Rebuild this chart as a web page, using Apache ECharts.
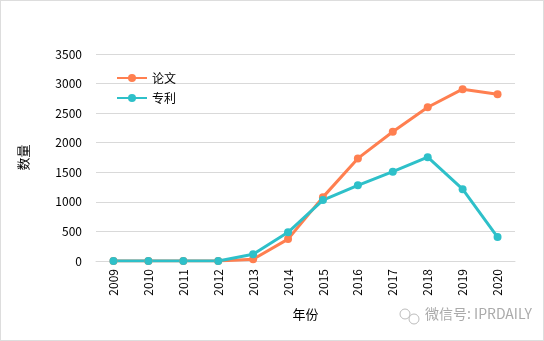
<!DOCTYPE html>
<html><head><meta charset="utf-8">
<script src="https://cdn.jsdelivr.net/npm/echarts@6/dist/echarts.min.js"></script>
<style>html,body{margin:0;padding:0;background:#fff}#c{width:542px;height:339px;border:1px solid #ddd}</style>
</head><body><div id="c"></div>
<script>
const years = ['2009','2010','2011','2012','2013','2014','2015','2016','2017','2018','2019','2020'];
const papers = [0,0,0,0,30,370,1080,1735,2185,2600,2905,2820];
const patents = [0,0,0,0,115,485,1030,1280,1510,1755,1215,405];
const yTicks = [0,500,1000,1500,2000,2500,3000,3500];
const ff = '"Noto Sans CJK SC", "Noto Sans", sans-serif';
const chart = echarts.init(document.getElementById('c'));
chart.setOption({
  animation:false,
  textStyle:{fontFamily:ff},
  grid:{left:95,right:28,top:53,bottom:79,containLabel:false,outerBoundsMode:'none'},
  legend:{orient:'vertical',left:110,top:66,itemWidth:30,itemHeight:10,itemGap:8,
    textStyle:{fontSize:12,color:'#000',fontFamily:ff},
    data:['论文','专利']},
  xAxis:{type:'category',data:years,name:'年份',nameLocation:'middle',nameGap:47,
    nameTextStyle:{fontSize:13,color:'#000'},
    axisLine:{lineStyle:{color:'#d9d9d9'}},axisTick:{show:false},
    axisLabel:{rotate:90,fontSize:12,color:'#000',margin:8,interval:0}},
  yAxis:{type:'value',min:yTicks[0],max:yTicks[yTicks.length-1],interval:500,name:'数量',nameLocation:'middle',nameGap:66,nameRotate:90,
    nameTextStyle:{fontSize:13,color:'#000'},
    axisLine:{show:false},axisTick:{show:false},
    axisLabel:{fontSize:12,color:'#000',margin:14,formatter:function(v){return String(v);}},
    splitLine:{lineStyle:{color:'#d9d9d9'}}},
  series:[
    {name:'论文',type:'line',data:papers,symbol:'circle',symbolSize:8,color:'#FF7F50',lineStyle:{width:3}},
    {name:'专利',type:'line',data:patents,symbol:'circle',symbolSize:8,color:'#2EC0C9',lineStyle:{width:3}}
  ],
  graphic:[
    {type:'text',left:424,top:306,style:{text:'微信号: IPRDAILY',fontSize:14,fill:'#aaa',fontFamily:ff}},
    {type:'circle',shape:{cx:404,cy:313,r:5},style:{fill:'none',stroke:'#bbb',lineWidth:1}},
    {type:'circle',shape:{cx:413,cy:318,r:5},style:{fill:'none',stroke:'#bbb',lineWidth:1}}
  ]
});
</script></body></html>
